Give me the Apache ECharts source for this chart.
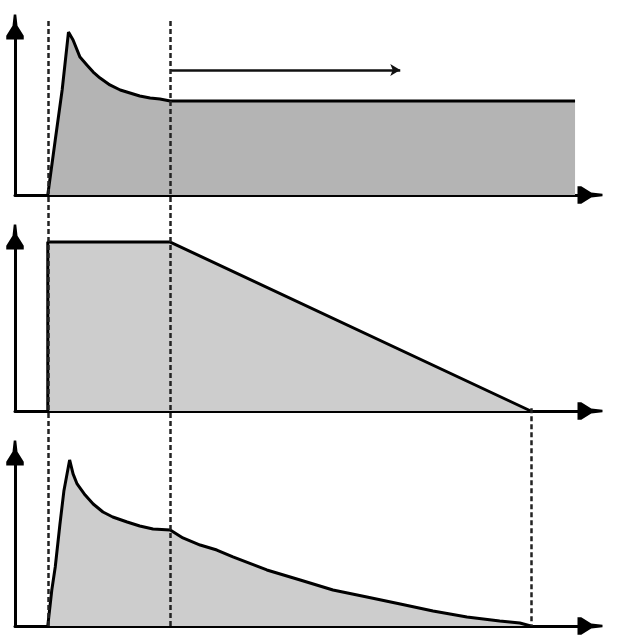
<!DOCTYPE html>
<html>
<head>
<meta charset="utf-8">
<script src="https://cdn.jsdelivr.net/npm/echarts@6/dist/echarts.min.js"></script>
<style>
html,body{margin:0;padding:0;background:#fff;}
#c{width:622px;height:644px;}
</style>
</head>
<body>
<div id="c"></div>
<script>
// Time values (x axis, 0..100) and panel values (y axis, 0..100)
const markTimes = [5.7, 27.0, 89.7];          // dashed guide lines
const guide3Top = 36.0;                        // third guide starts at middle panel baseline (overlay units)
const arrowFrom = 27.0, arrowTo = 67.0, arrowLevel = 74.4;

const topT = [5.7, 7.0, 8.2, 9.3, 10.1, 11.3, 12.5, 13.6, 14.8, 16.5, 18.3, 20.0, 21.7, 23.5, 25.2, 27.0, 97.4];
const topV = [0, 32.7, 62.5, 97.0, 92.3, 82.1, 77.4, 73.2, 69.6, 65.5, 62.5, 60.7, 58.9, 57.7, 57.1, 56.0, 56.0];

const midT = [5.7, 5.7, 27.0, 89.7];
const midV = [0, 97.1, 97.1, 0];

const botT = [5.7, 6.4, 7.0, 7.8, 8.5, 9.5, 10.1, 10.8, 12.2, 13.6, 15.3, 17.0, 19.5, 21.7, 24.0, 27.0, 29.2, 32.2, 35.1, 37.9, 43.8, 49.6, 55.3, 61.2, 67.0, 72.7, 78.6, 84.3, 87.8, 89.7];
const botV = [0, 20.8, 34.1, 58.4, 78.0, 96.0, 87.9, 82.1, 75.7, 70.5, 65.9, 63.0, 60.1, 57.8, 56.1, 55.5, 50.9, 46.8, 43.9, 39.9, 32.4, 26.6, 20.8, 16.8, 12.7, 8.7, 5.2, 2.9, 1.7, 0];

const zip = (a, b) => a.map((x, i) => [x, b[i]]);

const arrowPath = 'path://M6,0 L8,0 L9,9 L14,17 L14,20 L0,20 L0,17 L5,9 Z';

function xAx(i, show) {
  return {
    gridIndex: i, type: 'value', min: 0, max: 100,
    axisLine: show ? {show: true, lineStyle: {color: '#000', width: 3}, symbol: ['none', arrowPath], symbolSize: [19, 25]} : {show: false},
    axisTick: {show: false}, axisLabel: {show: false}, splitLine: {show: false}
  };
}
function yAx(i, show) {
  return {
    gridIndex: i, type: 'value', min: 0, max: 100,
    axisLine: show ? {show: true, onZero: false, lineStyle: {color: '#000', width: 3}, symbol: ['none', arrowPath], symbolSize: [19, 25]} : {show: false},
    axisTick: {show: false}, axisLabel: {show: false}, splitLine: {show: false}
  };
}

const chart = echarts.init(document.getElementById('c'), null, {renderer: 'canvas'});
chart.setOption({
  animation: false,
  backgroundColor: '#fff',
  grid: [
    {left: 15, top: 27, width: 575, height: 168},
    {left: 15, top: 237, width: 575, height: 174},
    {left: 15, top: 453, width: 575, height: 173},
    {left: 15, top: 21, width: 575, height: 605}
  ],
  xAxis: [xAx(0, true), xAx(1, true), xAx(2, true), xAx(3, false)],
  yAxis: [yAx(0, true), yAx(1, true), yAx(2, true), yAx(3, false)],
  series: [
    {
      type: 'line', xAxisIndex: 0, yAxisIndex: 0, data: zip(topT, topV),
      symbol: 'none', clip: false,
      lineStyle: {color: '#000', width: 3},
      areaStyle: {color: '#b4b4b4', opacity: 1},
      markLine: {
        silent: true, symbol: ['none', 'arrow'], symbolSize: [9, 10],
        label: {show: false},
        lineStyle: {color: '#111', width: 2.5, type: 'solid'},
        data: [[{coord: [arrowFrom, arrowLevel]}, {coord: [arrowTo, arrowLevel]}]]
      }
    },
    {
      type: 'line', xAxisIndex: 1, yAxisIndex: 1, data: zip(midT, midV),
      symbol: 'none', clip: false,
      lineStyle: {color: '#000', width: 3},
      areaStyle: {color: '#cdcdcd', opacity: 1}
    },
    {
      type: 'line', xAxisIndex: 2, yAxisIndex: 2, data: zip(botT, botV),
      symbol: 'none', clip: false,
      lineStyle: {color: '#000', width: 3},
      areaStyle: {color: '#cdcdcd', opacity: 1}
    },
    {
      type: 'line', xAxisIndex: 3, yAxisIndex: 3, data: [[0, 0]],
      symbol: 'none', showSymbol: false, lineStyle: {opacity: 0},
      z: 5,
      markLine: {
        silent: true, symbol: ['none', 'none'],
        label: {show: false},
        lineStyle: {color: '#222', width: 2.5, type: [5, 3]},
        data: [
          {xAxis: markTimes[0]},
          {xAxis: markTimes[1]},
          [{coord: [markTimes[2], guide3Top]}, {coord: [markTimes[2], 0]}]
        ]
      }
    }
  ]
});
</script>
</body>
</html>
